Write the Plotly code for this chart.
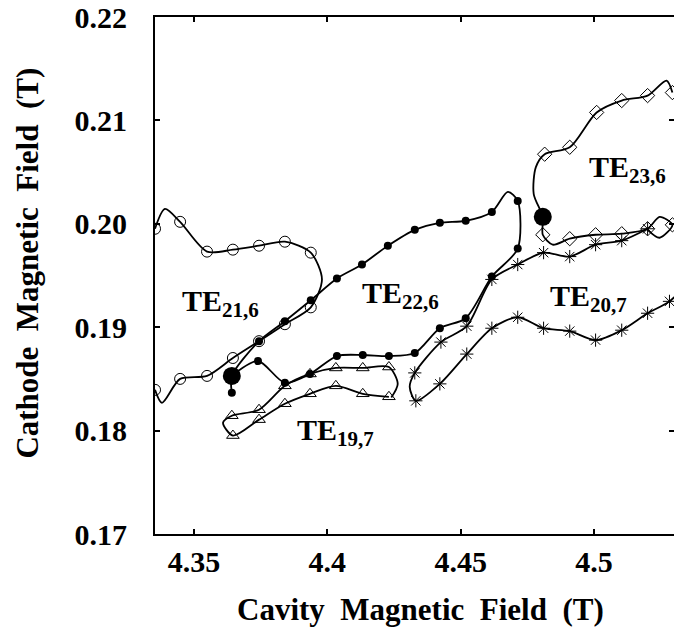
import plotly.graph_objects as go

# ---- data (Tesla) ----
# TE21,6 (open circles); marked = point carries a marker
te216_x = [4.3354, 4.3391, 4.3448, 4.3549, 4.3646, 4.3744, 4.3841, 4.3938, 4.3980,
           4.3938, 4.3841, 4.3744, 4.3646, 4.3549, 4.3448, 4.3380, 4.3354]
te216_y = [0.19952, 0.20144, 0.20019, 0.19731, 0.19750, 0.19788, 0.19827, 0.19721, 0.19462,
           0.19192, 0.19029, 0.18865, 0.18702, 0.18529, 0.18500, 0.18269, 0.18394]
te216_m = [1, 0, 1, 1, 1, 1, 1, 1, 0, 1, 1, 1, 1, 1, 1, 0, 1]

# TE22,6 (filled dots)
te226_x = [4.3642, 4.3642, 4.3744, 4.3841, 4.3938, 4.4036, 4.4130, 4.4227, 4.4328, 4.4422,
           4.4519, 4.4617, 4.4677, 4.4714, 4.4714, 4.4617, 4.4519, 4.4422, 4.4328, 4.4231,
           4.4133, 4.4036, 4.3935, 4.3841, 4.3740, 4.3642]
te226_y = [0.18365, 0.18529, 0.18865, 0.19058, 0.19260, 0.19471, 0.19606, 0.19788, 0.19942, 0.20010,
           0.20029, 0.20115, 0.20308, 0.20221, 0.19760, 0.19490, 0.19087, 0.18990, 0.18750, 0.18721,
           0.18731, 0.18721, 0.18548, 0.18462, 0.18673, 0.18529]
te226_m = [1, 1, 1, 1, 1, 1, 1, 1, 1, 1, 1, 1, 0, 1, 1, 1, 1, 1, 1, 1, 1, 1, 1, 1, 1, 0]

# TE20,7 (asterisks)
te207_x = [4.5201, 4.5104, 4.5006, 4.4909, 4.4811, 4.4714, 4.4617, 4.4523, 4.4426, 4.4328,
           4.4309, 4.4332, 4.4422, 4.4523, 4.4617, 4.4714, 4.4811, 4.4909, 4.5006, 4.5104,
           4.5201, 4.5283, 4.5340]
te207_y = [0.19952, 0.19837, 0.19798, 0.19683, 0.19721, 0.19606, 0.19462, 0.19010, 0.18856, 0.18558,
           0.18423, 0.18288, 0.18452, 0.18740, 0.18990, 0.19096, 0.18990, 0.18962, 0.18875, 0.18971,
           0.19135, 0.19250, 0.19394]
te207_m = [1, 1, 1, 1, 1, 1, 1, 1, 1, 1, 0, 1, 1, 1, 1, 1, 1, 1, 1, 1, 1, 1, 0]

# TE23,6 (open diamonds)
te236_x = [4.5294, 4.5272, 4.5201, 4.5104, 4.5010, 4.4909, 4.4815, 4.4782, 4.4774, 4.4808,
           4.4808, 4.4845, 4.4909, 4.5006, 4.5104, 4.5201, 4.5246, 4.5294, 4.5246, 4.5201]
te236_y = [0.21269, 0.21385, 0.21240, 0.21192, 0.21077, 0.20740, 0.20673, 0.20548, 0.20288, 0.20067,
           0.19894, 0.19798, 0.19856, 0.19894, 0.19904, 0.19952, 0.20067, 0.19990, 0.19865, 0.19942]
te236_m = [1, 0, 1, 1, 1, 1, 1, 0, 0, 0, 1, 0, 1, 1, 1, 1, 0, 1, 0, 0]

# TE19,7 (open triangles)
te197_x = [4.4231, 4.4133, 4.4032, 4.3935, 4.3841, 4.3744, 4.3646, 4.3609, 4.3642, 4.3744,
           4.3841, 4.3935, 4.4032, 4.4133, 4.4231, 4.4264, 4.4240]
te197_y = [0.18327, 0.18356, 0.18433, 0.18356, 0.18260, 0.18106, 0.17952, 0.18077, 0.18144, 0.18202,
           0.18433, 0.18548, 0.18606, 0.18606, 0.18615, 0.18452, 0.18320]
te197_m = [1, 1, 1, 1, 1, 1, 1, 0, 1, 1, 1, 1, 1, 1, 1, 0, 0]

# operating points (large dots)
op_x = [4.3642, 4.4808]
op_y = [0.18529, 0.20067]

# mode labels
mode_names = ["TE<sub>21,6</sub>", "TE<sub>22,6</sub>", "TE<sub>23,6</sub>", "TE<sub>20,7</sub>", "TE<sub>19,7</sub>"]
label_x = [4.3448, 4.4122, 4.4973, 4.4827, 4.3878]
label_y = [0.19231, 0.19308, 0.20530, 0.19279, 0.17990]

x_ticks = [4.35, 4.40, 4.45, 4.50]
x_ticktext = ["4.35", "4.4", "4.45", "4.5"]
y_ticks = [0.17, 0.18, 0.19, 0.20, 0.21, 0.22]
y_ticktext = ["0.17", "0.18", "0.19", "0.20", "0.21", "0.22"]

FONT = "Liberation Serif, Times New Roman, serif"

fig = go.Figure()

series = [
    (te216_x, te216_y, te216_m, dict(symbol="circle-open", size=11, line=dict(width=1))),
    (te226_x, te226_y, te226_m, dict(symbol="circle", size=8)),
    (te207_x, te207_y, te207_m, dict(symbol="asterisk-open", size=11, line=dict(width=1))),
    (te236_x, te236_y, te236_m, dict(symbol="diamond-open", size=11, line=dict(width=1))),
    (te197_x, te197_y, te197_m, dict(symbol="triangle-up-open", size=11, line=dict(width=1))),
]

for xs, ys, ms, mk in series:
    fig.add_trace(go.Scatter(x=xs, y=ys, mode="lines",
                             line=dict(color="black", width=1.8, shape="spline", smoothing=0.8),
                             showlegend=False, hoverinfo="skip"))
    mx = [x for x, m in zip(xs, ms) if m]
    my = [y for y, m in zip(ys, ms) if m]
    mk = dict(mk)
    mk["color"] = "black"
    if "line" in mk:
        mk["line"] = dict(mk["line"], color="black")
    fig.add_trace(go.Scatter(x=mx, y=my, mode="markers", marker=mk, showlegend=False))

fig.add_trace(go.Scatter(x=op_x, y=op_y, mode="markers",
                         marker=dict(symbol="circle", size=18, color="black"), showlegend=False))

# invisible trace to activate right-side tick axis
fig.add_trace(go.Scatter(x=[op_x[0]], y=[op_y[0]], yaxis="y2", mode="markers",
                         marker=dict(size=0.1, opacity=0), showlegend=False, hoverinfo="skip"))

for t, lx, ly in zip(mode_names, label_x, label_y):
    fig.add_annotation(x=lx, y=ly, xref="x", yref="y", text=t, showarrow=False,
                       xanchor="left", yanchor="middle",
                       font=dict(family=FONT, size=30, color="black", weight="bold"))

fig.add_annotation(x=0.5125, y=-0.146, xref="paper", yref="paper",
                   text="Cavity\u00a0\u00a0Magnetic\u00a0\u00a0Field\u00a0\u00a0(T)", showarrow=False,
                   xanchor="center", yanchor="middle",
                   font=dict(family=FONT, size=31, color="black", weight="bold"))
fig.add_annotation(x=-0.2447, y=0.523, xref="paper", yref="paper",
                   text="Cathode\u00a0\u00a0Magnetic\u00a0\u00a0Field\u00a0\u00a0(T)", showarrow=False,
                   textangle=-90, xanchor="center", yanchor="middle",
                   font=dict(family=FONT, size=31, color="black", weight="bold"))

tickfont = dict(family=FONT, size=30, color="black", weight="bold")

fig.update_layout(
    width=674, height=633,
    margin=dict(l=155, r=0, t=14, b=99, pad=0),
    paper_bgcolor="white", plot_bgcolor="white",
    xaxis=dict(range=[4.33539, 4.5300], tickvals=x_ticks, ticktext=x_ticktext,
               ticks="inside", ticklen=5, tickwidth=1.5, tickcolor="black",
               showline=True, linewidth=2, linecolor="black", mirror="ticks",
               showgrid=False, zeroline=False, tickfont=tickfont, ticklabelstandoff=0,
               ticklabeloverflow="allow"),
    yaxis=dict(range=[0.17, 0.22], tickvals=y_ticks, ticktext=y_ticktext,
               ticks="inside", ticklen=5, tickwidth=1.5, tickcolor="black",
               showline=True, linewidth=2, linecolor="black", mirror=False,
               showgrid=False, zeroline=False, tickfont=tickfont, ticklabelstandoff=20,
               ticklabeloverflow="allow"),
    yaxis2=dict(range=[0.17, 0.22], overlaying="y", side="right", anchor="x",
                tickvals=y_ticks, ticks="inside", ticklen=5, tickwidth=1.5, tickcolor="black",
                showticklabels=False, showline=False, showgrid=False, zeroline=False),
)

fig.write_html("out.html", config={"displayModeBar": False},
               post_script="document.body.style.margin='0';")
